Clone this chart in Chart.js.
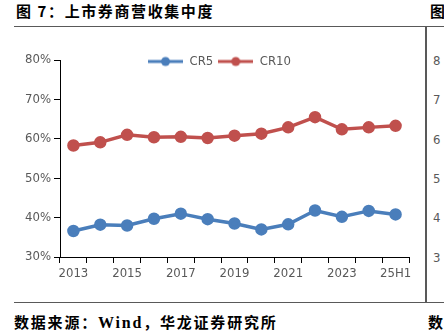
<!DOCTYPE html>
<html>
<head>
<meta charset="utf-8">
<script src="https://cdn.jsdelivr.net/npm/chart.js@4.4.1/dist/chart.umd.min.js"></script>
<style>
  html, body { margin: 0; padding: 0; background: #fff; }
  body { width: 444px; height: 331px; position: relative; overflow: hidden; }
  .title { position: absolute; left: 16px; top: 0px; font: 600 15px "Noto Sans CJK SC", sans-serif; letter-spacing: 1.6px; color: #000; white-space: nowrap; }
  .title2 { position: absolute; left: 430px; top: 0px; font: 600 15px "Noto Sans CJK SC", sans-serif; color: #000; }
  .rule { position: absolute; background: #595959; }
  .src { position: absolute; left: 14px; top: 311px; font: 700 15px "Noto Sans CJK SC", serif; letter-spacing: 1.8px; color: #000; white-space: nowrap; }
  .src b { font-family: "Liberation Serif", serif; font-size: 16px; }
  .src2 { position: absolute; left: 428px; top: 311px; font: 700 15px "Noto Sans CJK SC", sans-serif; color: #000; }
  .rt { position: absolute; left: 433px; font: 13px "Liberation Sans Narrow", "DejaVu Sans Condensed", sans-serif; color: #595959; }
  #wrap { position: absolute; left: 0; top: 27px; width: 424px; height: 273px; }
</style>
</head>
<body>
<div class="title">图 7：上市券商营收集中度</div>
<div class="title2">图</div>
<div class="rule" style="left:14px;top:26px;width:430px;height:1px"></div>
<div class="rule" style="left:425px;top:26px;width:2px;height:277px"></div>
<div class="rule" style="left:14px;top:302px;width:430px;height:1px"></div>
<div class="rt" style="top:53px">8</div>
<div class="rt" style="top:92px">7</div>
<div class="rt" style="top:132px">6</div>
<div class="rt" style="top:171px">5</div>
<div class="rt" style="top:210px">4</div>
<div class="rt" style="top:250px">3</div>
<div class="src">数据来源：<b>Wind</b>，华龙证券研究所</div>
<div class="src2">数</div>
<div id="wrap"><canvas id="c" width="424" height="273"></canvas></div>
<script>
// -------------------------------
// Data
// -------------------------------
const years = ["2013", "2014", "2015", "2016", "2017", "2018", "2019", "2020", "2021", "2022", "2023", "2024", "25H1"];
const cr5 = [36.6, 38.2, 38.0, 39.7, 41.0, 39.6, 38.5, 37.0, 38.3, 41.8, 40.2, 41.7, 40.8];
const cr10 = [58.3, 59.1, 61.0, 60.4, 60.5, 60.2, 60.8, 61.3, 62.9, 65.5, 62.4, 62.9, 63.3];
const seriesNames = ["CR5", "CR10"];
const colors = ["#4A7EBB", "#C0504D"];

const narrow = '"Liberation Sans Narrow", "DejaVu Sans Condensed", sans-serif';

// legend marker: short line with a dot
function legendMarker(color) {
  const m = document.createElement("canvas");
  m.width = 35;
  m.height = 12;
  const g = m.getContext("2d");
  g.strokeStyle = color;
  g.lineWidth = 3;
  g.beginPath();
  g.moveTo(0, 6);
  g.lineTo(35, 6);
  g.stroke();
  g.fillStyle = color;
  g.beginPath();
  g.arc(17.5, 6, 4.5, 0, Math.PI * 2);
  g.fill();
  return m;
}

// legend takes only 10px of layout so it sits level with the top of the plot,
// then its box is grown back so the text isn't clipped, and nudged right
const legendFit = {
  id: "legendFit",
  beforeInit(chart) {
    const fit = chart.legend.fit;
    chart.legend.fit = function () {
      fit.bind(chart.legend)();
      this.height = 10;
    };
  },
  afterLayout(chart) {
    chart.legend.bottom += 20;
    chart.legend.height += 20;
    chart.legend.left += 15;
    chart.legend.right += 15;
  },
};

new Chart(document.getElementById("c"), {
  type: "line",
  data: {
    labels: years,
    datasets: [
      {
        label: seriesNames[0],
        data: cr5,
        borderColor: colors[0],
        backgroundColor: colors[0],
        borderWidth: 3.5,
        pointRadius: 4.5,
      },
      {
        label: seriesNames[1],
        data: cr10,
        borderColor: colors[1],
        backgroundColor: colors[1],
        borderWidth: 3.5,
        pointRadius: 4.5,
      },
    ],
  },
  options: {
    responsive: false,
    animation: false,
    layout: { padding: { top: 23, right: 15, bottom: 0, left: 0 } },
    plugins: {
      tooltip: { enabled: false },
      legend: {
        position: "top",
        labels: {
          usePointStyle: true,
          pointStyleWidth: 35,
          padding: 5,
          color: "#595959",
          font: { family: narrow, size: 13 },
          generateLabels(chart) {
            return chart.data.datasets.map((ds, i) => ({
              text: ds.label,
              fillStyle: ds.borderColor,
              strokeStyle: ds.borderColor,
              pointStyle: legendMarker(ds.borderColor),
              fontColor: "#595959",
              lineWidth: 0,
              datasetIndex: i,
            }));
          },
        },
      },
    },
    scales: {
      x: {
        offset: true,
        grid: { display: true, offset: true, drawOnChartArea: false, tickLength: 6, color: "#000" },
        border: { display: true, color: "#000", width: 1 },
        ticks: {
          autoSkip: false,
          maxRotation: 0,
          padding: 3,
          color: "#595959",
          font: { family: narrow, size: 13 },
          callback: (v, i) => (i % 2 === 0 ? years[i] : ""),
        },
        afterFit: (s) => { s.height = 43; },
      },
      y: {
        min: 30,
        max: 80,
        grid: { display: true, drawOnChartArea: false, tickLength: 6, color: "#000" },
        border: { display: true, color: "#000", width: 1 },
        ticks: {
          stepSize: 10,
          padding: 3,
          color: "#595959",
          font: { family: narrow, size: 13 },
          callback: (v) => v + "%",
        },
        afterFit: (s) => { s.width = 60; },
      },
    },
  },
  plugins: [legendFit],
});
</script>
</body>
</html>
